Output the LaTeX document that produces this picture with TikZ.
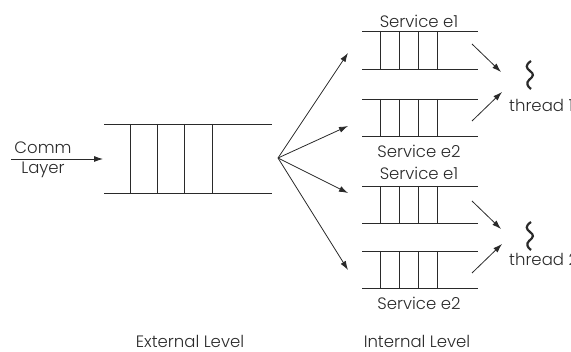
\documentclass[tikz,border=0pt]{standalone}
\usepackage{fontspec}
\setmainfont{Poppins}[UprightFont=* Light]
\usetikzlibrary{arrows.meta}
\definecolor{ink}{HTML}{2A2A2A}
\tikzset{
  qline/.style={draw=ink, line width=0.9pt},
  flow/.style={draw=ink, line width=0.8pt, -{Latex[length=9pt,width=6pt]}},
  lbl/.style={font=\fontsize{16.5}{18}\selectfont, text=ink, inner sep=0pt},
  wiggle/.style={draw=ink, line width=2.2pt},
  % a queue: two rails and four slot dividers
  pics/queue/.style args={#1/#2/#3}{code={
    \draw[qline] (0,0) -- (#1,0);
    \draw[qline] (0,#2) -- (#1,#2);
    \foreach \s in {#3} \draw[qline] (\s,0) -- (\s,#2);
  }}
}
\begin{document}
\begin{tikzpicture}[x=1pt,y=-1pt]
\useasboundingbox (0,0) rectangle (571,352);

% external queue
\pic at (104,124) {queue={168/69/{26,53,80,108}}};
% internal queues
\pic at (362,31)  {queue={116/38/{18,37,56,75}}};
\pic at (362,99)  {queue={116/37/{18,37,56,75}}};
\pic at (362,186) {queue={116/37/{18,37,56,75}}};
\pic at (362,251) {queue={116/37/{18,37,56,75}}};

% entry point from the comm layer
\coordinate (cin) at (11,159);
\coordinate (qin) at (103,159);
\node[lbl] (comm) at (43,148) {Comm};
\node[lbl] (layer) at (43,170) {Layer};
\draw[flow] (cin) -- (qin);

% dispatch fan-out
\coordinate (fan) at (278,158);
\coordinate (s1) at (348,53);
\coordinate (s2) at (348,126);
\coordinate (s3) at (348,193);
\coordinate (s4) at (348,270);
\foreach \t in {s1,s2,s3,s4} \draw[flow] (fan) -- (\t);

% service labels
\node[lbl] (e1a) at (419,21)  {Service e1};
\node[lbl] (e2a) at (419,151) {Service e2};
\node[lbl] (e1b) at (419,173) {Service e1};
\node[lbl] (e2b) at (419,303) {Service e2};

% threads
\coordinate (o1) at (472,44);  \coordinate (i1) at (501,72);
\coordinate (o2) at (472,121); \coordinate (i2) at (502,92);
\coordinate (o3) at (472,201); \coordinate (i3) at (501,229);
\coordinate (o4) at (472,273); \coordinate (i4) at (502,244);
\foreach \a/\b in {o1/i1,o2/i2,o3/i3,o4/i4} \draw[flow] (\a) -- (\b);

\foreach \y in {61,222}
  \draw[wiggle] (531,\y) .. controls (525,\y+4) and (526,\y+7) .. (530,\y+10)
     .. controls (534,\y+13) and (534,\y+15) .. (529,\y+19)
     .. controls (526,\y+22) and (527,\y+25) .. (531,\y+28);
\node[lbl, anchor=west] (t1) at (509,105) {thread 1};
\node[lbl, anchor=west] (t2) at (509,259) {thread 2};

% level captions
\node[lbl] (ext) at (190,341) {External Level};
\node[lbl] (int) at (417,341) {Internal Level};
\end{tikzpicture}
\end{document}
